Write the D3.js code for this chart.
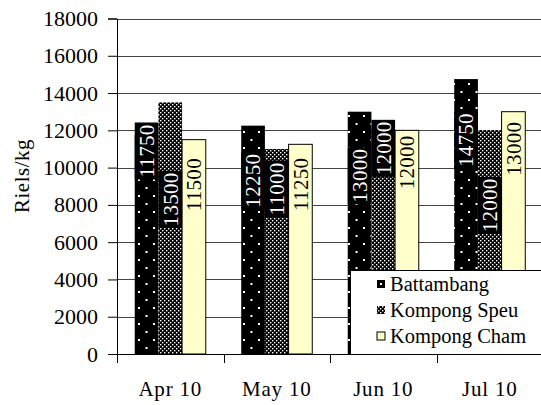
<!DOCTYPE html>
<html><head><meta charset="utf-8">
<script src="https://cdn.jsdelivr.net/npm/d3@7"></script>
<style>body{margin:0;background:#fff}svg{display:block}</style>
</head><body><svg id="c" width="541" height="405"></svg>
<script>
const categories = ["Apr 10", "May 10", "Jun 10", "Jul 10"];
const seriesNames = ["Battambang", "Kompong Speu", "Kompong Cham"];
const battambang = [11750, 12250, 13000, 14750];
const kompongSpeu = [13500, 11000, 12000, 12000];
const kompongCham = [11500, 11250, 12000, 13000];
const yTicks = [0, 2000, 4000, 6000, 8000, 10000, 12000, 14000, 16000, 18000];
// label centre offsets below bar top (px), as placed in the original
const labelShift = [[16, 55, 64, 61], [97, 40, 18, 75], [45, 40, 32, 37]];

const FONT = "'Liberation Serif', 'Times New Roman', serif";
const values = [battambang, kompongSpeu, kompongCham];
const fills = ["url(#pB)", "url(#pK)", "#ffffcc"];
const svg = d3.select("#c");
const defs = svg.append("defs");
const pB = defs.append("pattern").attr("id", "pB").attr("patternUnits", "userSpaceOnUse").attr("width", 15).attr("height", 16);
pB.append("rect").attr("width", 15).attr("height", 16).attr("fill", "#000");
pB.append("rect").attr("x", 3).attr("y", 3).attr("width", 2).attr("height", 2).attr("fill", "#fff");
pB.append("rect").attr("x", 10.5).attr("y", 11).attr("width", 2).attr("height", 2).attr("fill", "#fff");
const pK = defs.append("pattern").attr("id", "pK").attr("patternUnits", "userSpaceOnUse").attr("width", 4).attr("height", 4);
pK.append("rect").attr("width", 4).attr("height", 4).attr("fill", "#000");
pK.append("rect").attr("x", 0).attr("y", 0).attr("width", 1.4).attr("height", 1.4).attr("fill", "#fff");
pK.append("rect").attr("x", 2).attr("y", 2).attr("width", 1.4).attr("height", 1.4).attr("fill", "#fff");

const x0 = d3.scaleBand().domain(categories).range([117, 543]).paddingInner(0.333).paddingOuter(0.1665);
const x1 = d3.scaleBand().domain(seriesNames).range([0, x0.bandwidth()]);
const y = d3.scaleLinear().domain([0, 18000]).range([354, 18.5]);

// gridlines
svg.append("g").selectAll("line").data(yTicks.filter(d => d > 0)).join("line")
  .attr("x1", 117).attr("x2", 541).attr("y1", d => Math.round(y(d)) + 0.5).attr("y2", d => Math.round(y(d)) + 0.5)
  .attr("stroke", "#444").attr("stroke-width", 1);

// bars
const gs = svg.append("g").selectAll("g").data(seriesNames).join("g");
gs.each(function (s, si) {
  d3.select(this).selectAll("rect").data(values[si]).join("rect")
    .attr("x", (d, i) => x0(categories[i]) + x1(s))
    .attr("y", d => y(d))
    .attr("width", x1.bandwidth())
    .attr("height", d => y(0) - y(d))
    .attr("fill", fills[si])
    .attr("stroke", si === 2 ? "#000" : "none")
    .attr("stroke-width", 1);
});

// labels
seriesNames.forEach((s, si) => {
  values[si].forEach((v, i) => {
    const cx = x0(categories[i]) + x1(s) + x1.bandwidth() / 2;
    const cy = y(v) + labelShift[si][i];
    if (si < 2) {
      svg.append("rect").attr("x", cx - x1.bandwidth() / 2).attr("y", cy - 28.5)
        .attr("width", x1.bandwidth()).attr("height", 57).attr("fill", "#000");
    }
    svg.append("text").attr("transform", `translate(${cx},${cy}) rotate(-90)`)
      .attr("text-anchor", "middle").attr("dy", "0.35em").style("font-family", FONT)
      .style("font-size", "21px").style("letter-spacing", "0.3px").attr("fill", si < 2 ? "#fff" : "#000").text(v);
  });
});

// y axis
const ya = svg.append("g").attr("transform", "translate(117,0)")
  .call(d3.axisLeft(y).tickValues(yTicks).tickSize(9).tickPadding(10).tickFormat(d => d));
ya.attr("font-family", null).attr("font-size", null);
ya.select(".domain").attr("stroke", "#000");
ya.selectAll("text").style("font-size", "22px").style("font-family", FONT).attr("fill", "#000");

// x axis
const xa = svg.append("g").attr("transform", "translate(0,354)");
xa.append("line").attr("x1", 117).attr("x2", 541).attr("y1", 0.5).attr("y2", 0.5).attr("stroke", "#000");
xa.selectAll("line.t").data(categories).join("line").attr("class", "t")
  .attr("x1", d => Math.round(x0(d) - x0.step() * 0.1665) + 0.5).attr("x2", d => Math.round(x0(d) - x0.step() * 0.1665) + 0.5)
  .attr("y1", 0).attr("y2", 9).attr("stroke", "#000");
xa.selectAll("text").data(categories).join("text")
  .attr("x", d => x0(d) + x0.bandwidth() / 2).attr("y", 42)
  .attr("text-anchor", "middle").style("font-size", "21px").style("letter-spacing", "0.8px").style("font-family", FONT).text(d => d);

// y title
svg.append("text").attr("transform", "translate(29,176) rotate(-90)").attr("text-anchor", "middle")
  .style("font-size", "21px").style("letter-spacing", "0.5px").style("font-family", FONT).text("Riels/kg");

// legend
const lg = svg.append("g");
lg.append("rect").attr("x", 350.5).attr("y", 270.5).attr("width", 200).attr("height", 84).attr("fill", "#fff").attr("stroke", "#000");
const legFills = ["#000", "url(#pK)", "#ffffcc"];
seriesNames.forEach((s, i) => {
  const cy = 284 + i * 26;
  lg.append("rect").attr("x", 377).attr("y", cy - 4).attr("width", 8).attr("height", 8)
    .attr("fill", legFills[i]).attr("stroke", "#000").attr("stroke-width", i === 2 ? 1 : 0);
  if (i === 0) lg.append("rect").attr("x", 380).attr("y", cy - 1).attr("width", 2).attr("height", 2).attr("fill", "#fff");
  lg.append("text").attr("x", 390).attr("y", cy).attr("dy", "0.35em").style("font-size", "20.5px").style("font-family", FONT).text(s);
});
</script></body></html>
